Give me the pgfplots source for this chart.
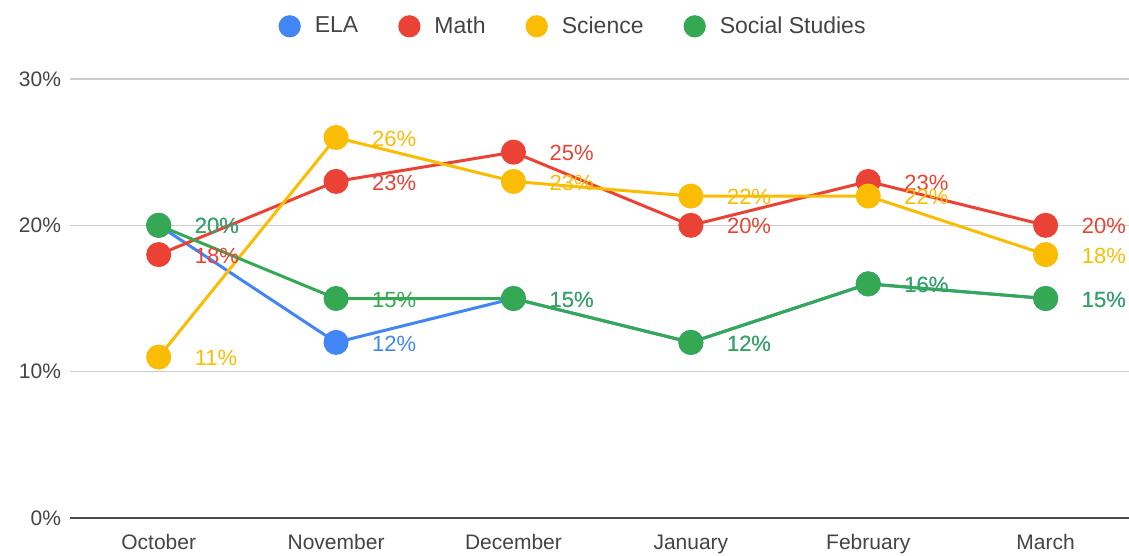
\documentclass[border=0pt]{standalone}
\usepackage{fontspec}
\setmainfont{Liberation Sans}
\usepackage{pgfplots}
\pgfplotsset{compat=1.18}
\definecolor{cela}{HTML}{4285F4}
\definecolor{cmath}{HTML}{EA4335}
\definecolor{csci}{HTML}{FBBC04}
\definecolor{csoc}{HTML}{34A853}
\definecolor{ctick}{HTML}{444444}
\begin{document}
\begin{tikzpicture}
\begin{axis}[
  /pgf/number format/assume math mode=true,
  scale only axis, width=529.5pt, height=219.5pt,
  xmin=-0.5, xmax=5.47, ymin=0, ymax=30,
  axis x line*=bottom, axis y line*=left,
  y axis line style={draw=none},
  x axis line style={draw=black!70, line width=1pt, -},
  ytick={0,10,20,30},
  yticklabel={\pgfmathprintnumber{\tick}\%},
  ymajorgrids, grid style={color=black!20, line width=0.6pt},
  xtick={0,1,2,3,4,5},
  xticklabels={October,November,December,January,February,March},
  major tick length=0pt,
  tick label style={font=\fontsize{10.5}{12}\selectfont, text=ctick},
  yticklabel style={xshift=-1pt},
  xticklabel style={yshift=-4pt, text height=1.6ex, text depth=0.5ex},
  clip=false,
  legend columns=4,
  legend style={at={(rel axis cs:0.476,1.12)}, anchor=center, draw=none, fill=none,
    font=\fontsize{11.5}{13}\selectfont, text=ctick,
    /tikz/every odd column/.append style={column sep=5pt},
    /tikz/every even column/.append style={column sep=18pt}},
  legend image code/.code={\fill (0.15cm,0) circle (4.8pt);},
  every axis plot/.append style={line width=1.5pt, mark=*, mark size=5.5pt},
  nodes near coords={\pgfmathprintnumber{\pgfplotspointmeta}\%},
  every node near coord/.append style={anchor=west, xshift=14pt, yshift=-0.5pt, font=\fontsize{11}{13}\selectfont},
]
\addplot[color=cela, mark options={fill=cela, draw=cela}, every node near coord/.append style={text=cela}] coordinates {(0,20) (1,12) (2,15) (3,12) (4,16) (5,15)};
\addlegendentry{ELA}
\addplot[color=cmath, mark options={fill=cmath, draw=cmath}, every node near coord/.append style={text=cmath}] coordinates {(0,18) (1,23) (2,25) (3,20) (4,23) (5,20)};
\addlegendentry{Math}
\addplot[color=csci, mark options={fill=csci, draw=csci}, every node near coord/.append style={text=csci}] coordinates {(0,11) (1,26) (2,23) (3,22) (4,22) (5,18)};
\addlegendentry{Science}
\addplot[color=csoc, mark options={fill=csoc, draw=csoc}, every node near coord/.append style={text=csoc}] coordinates {(0,20) (1,15) (2,15) (3,12) (4,16) (5,15)};
\addlegendentry{Social Studies}
\coordinate (bl) at (rel axis cs:-0.0661,-0.0843);
\coordinate (tr) at (rel axis cs:1,1.18);
\end{axis}
\pgfresetboundingbox
\path[use as bounding box] (bl) rectangle (tr);
\end{tikzpicture}
\end{document}
